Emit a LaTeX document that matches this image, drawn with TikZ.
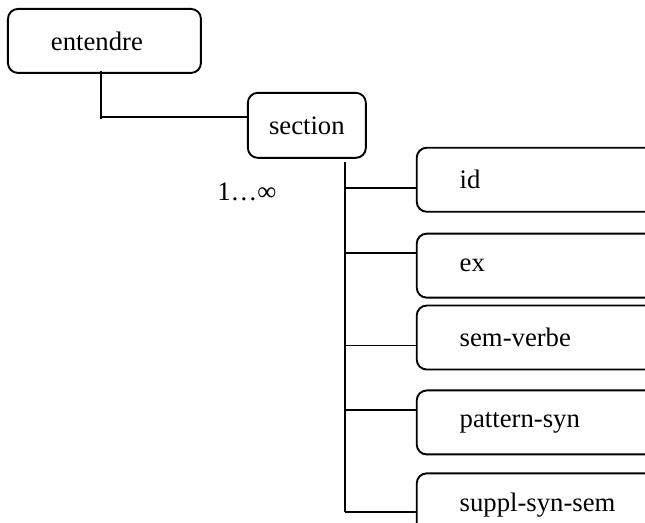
\documentclass[tikz,border=0pt]{standalone}
\usepackage{fontspec}
\setmainfont{Liberation Serif}
\usetikzlibrary{calc}
\tikzstyle{line} = [line width=0.95pt]
\tikzstyle{basic} = [rectangle, rounded corners=5pt, minimum height=32pt, draw=black, line width=0.95pt, fill=white, text=black, font=\fontsize{13.35}{16}\selectfont]
\tikzstyle{leaf} = [basic, align=left, inner xsep=21.5pt, text width=77pt]

\begin{document}
\begin{tikzpicture}[node distance=0mm]
\useasboundingbox (0,0) rectangle (322.5pt,-261.5pt);

\node (entendre) [leaf, text width=53.5pt, anchor=north west] at(3.5pt,-4pt) {entendre};
\node (section) [basic, minimum width=59pt, minimum height=32.5pt, anchor=north west, xshift=22.5pt, yshift=-9pt] at(entendre.south east) {section};
\node (mult) [anchor=center, yshift=-16.5pt, font=\fontsize{13.35}{16}\selectfont] at(section.south west) {1…∞};

\node (id) [leaf, anchor=north west, xshift=24.5pt, yshift=6pt] at(section.south east) {id};
\node (ex) [leaf, anchor=north west, yshift=-10pt] at(id.south west) {ex};
\node (semverbe) [leaf, anchor=north west, yshift=-3pt] at(ex.south west) {sem-verbe};
\node (pattern) [leaf, anchor=north west, yshift=-9.5pt] at(semverbe.south west) {pattern-syn};
\node (suppl) [leaf, anchor=north west, yshift=-8.5pt] at(pattern.south west) {\mbox{suppl-syn-sem}};

\coordinate (elbow) at ($(entendre.south)+(-1.75pt,-21.5pt)$);
\draw [line] ($(entendre.south)+(-1.75pt,1.5pt)$) -- ($(elbow)+(0,-1pt)$);
\draw [line] (elbow) -- (elbow -| section.west);

\coordinate (trunk) at ($(section.south east)+(-11pt,-1.5pt)$);
\coordinate (cid) at ($(id.west)+(0,-4pt)$);
\coordinate (cex) at ($(ex.west)+(0,6.5pt)$);
\coordinate (csem) at ($(semverbe.west)+(0,-4pt)$);
\coordinate (cpat) at ($(pattern.west)+(0,6pt)$);
\coordinate (csup) at ($(suppl.west)+(0,-3.5pt)$);
\draw [line] (trunk) -- (trunk |- csup);
\draw [line] (trunk |- cid) -- (cid);
\draw [line] (trunk |- cex) -- (cex);
\draw [line] (trunk |- csem) -- (csem);
\draw [line] (trunk |- cpat) -- (cpat);
\draw [line] (trunk |- csup) -- (csup);

\end{tikzpicture}
\end{document}
